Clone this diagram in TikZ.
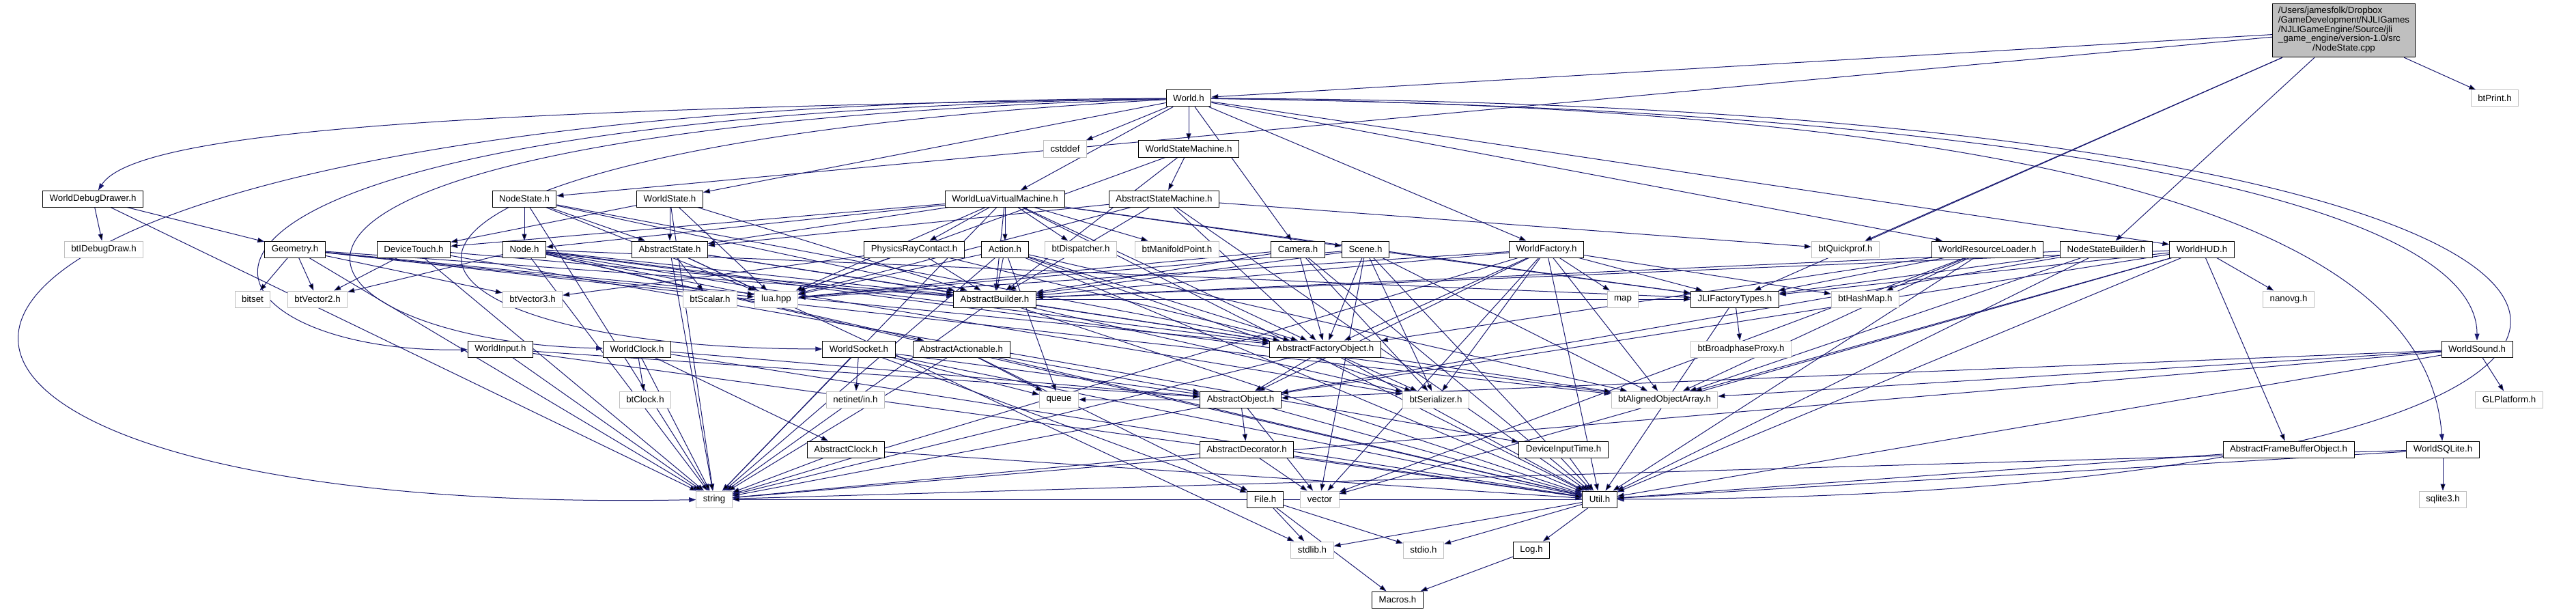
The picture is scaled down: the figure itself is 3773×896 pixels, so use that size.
\documentclass[tikz,border=0pt]{standalone}
\usepackage{fontspec}
\setmainfont{Liberation Sans}
\usetikzlibrary{arrows.meta}
\definecolor{edgeblue}{HTML}{191970}
\definecolor{extgrey}{HTML}{BFBFBF}
\pgfdeclarelayer{bg}
\pgfsetlayers{bg,main}
\tikzset{
  hdr/.style={draw=black, fill=white, line width=1pt, minimum height=24pt,
    inner xsep=10pt, inner ysep=2pt, font=\fontsize{13.3}{13.5}\selectfont},
  sys/.style={hdr, draw=extgrey},
  inc/.style={draw=edgeblue, line width=1pt, -{Triangle[length=10pt,width=7pt]}},
}
\begin{document}
\begin{tikzpicture}[x=1pt, y=-1pt]

    \def\rA{144}  \def\rB{218}  \def\rC{291}  \def\rD{365}
    \def\rE{438}  \def\rF{511}  \def\rG{585}  \def\rH{658}
    \def\rI{731}  \def\rJ{805}  \def\rK{878}

    \useasboundingbox (0,0) rectangle (3773,896);

    % source file
    \node[hdr, fill=extgrey, inner xsep=8pt, inner ysep=5pt] (root) at (3433,44.5)
      {\begin{tabular}{@{}l@{}}/Users/jamesfolk/Dropbox\\/GameDevelopment/NJLIGames\\
       /NJLIGameEngine/Source/jli\\\_game\_engine/version-1.0/src\\
       \multicolumn{1}{@{}c@{}}{/NodeState.cpp}\end{tabular}};

    \node[hdr] (world) at (1741,\rA) {World.h};
    \node[sys] (btprint) at (3654,\rA) {btPrint.h};

    \node[sys] (cstddef) at (1560,\rB) {cstddef};
    \node[hdr] (wsm) at (1741,\rB) {WorldStateMachine.h};

    \node[hdr] (wdd) at (136,\rC) {WorldDebugDrawer.h};
    \node[hdr] (nstate) at (768,\rC) {NodeState.h};
    \node[hdr] (wstate) at (981,\rC) {WorldState.h};
    \node[hdr] (wluavm) at (1472,\rC) {WorldLuaVirtualMachine.h};
    \node[hdr] (absm) at (1705,\rC) {AbstractStateMachine.h};

    \node[sys] (btidebug) at (152,\rD) {btIDebugDraw.h};
    \node[hdr] (geom) at (432,\rD) {Geometry.h};
    \node[hdr] (dtouch) at (606,\rD) {DeviceTouch.h};
    \node[hdr] (node) at (768,\rD) {Node.h};
    \node[hdr] (astate) at (981,\rD) {AbstractState.h};
    \node[hdr] (prc) at (1339,\rD) {PhysicsRayContact.h};
    \node[hdr] (action) at (1472,\rD) {Action.h};
    \node[sys] (btdisp) at (1583,\rD) {btDispatcher.h};
    \node[sys] (btmani) at (1724,\rD) {btManifoldPoint.h};
    \node[hdr] (camera) at (1901,\rD) {Camera.h};
    \node[hdr] (scene) at (2000,\rD) {Scene.h};
    \node[hdr] (wfactory) at (2265,\rD) {WorldFactory.h};
    \node[sys] (btquick) at (2703,\rD) {btQuickprof.h};
    \node[hdr] (wrl) at (2911,\rD) {WorldResourceLoader.h};
    \node[hdr] (nsb) at (3085,\rD) {NodeStateBuilder.h};
    \node[hdr] (whud) at (3225,\rD) {WorldHUD.h};

    \node[sys] (bitset) at (370,\rE) {bitset};
    \node[sys] (btvtwo) at (465,\rE) {btVector2.h};
    \node[sys] (btvthree) at (780,\rE) {btVector3.h};
    \node[sys] (btscalar) at (1040,\rE) {btScalar.h};
    \node[sys] (lua) at (1137,\rE) {lua.hpp};
    \node[hdr] (abuilder) at (1457,\rE) {AbstractBuilder.h};
    \node[sys] (map) at (2377,\rE) {map};
    \node[hdr] (jli) at (2541,\rE) {JLIFactoryTypes.h};
    \node[sys] (bthash) at (2732,\rE) {btHashMap.h};
    \node[sys] (nanovg) at (3352,\rE) {nanovg.h};

    \node[hdr] (winput) at (733,\rF) {WorldInput.h};
    \node[hdr] (wclock) at (933,\rF) {WorldClock.h};
    \node[hdr] (wsocket) at (1258,\rF) {WorldSocket.h};
    \node[hdr] (aactionable) at (1408,\rF) {AbstractActionable.h};
    \node[hdr] (afobject) at (1941,\rF) {AbstractFactoryObject.h};
    \node[sys] (btbroad) at (2550,\rF) {btBroadphaseProxy.h};
    \node[hdr] (wsound) at (3628,\rF) {WorldSound.h};

    \node[sys] (btclock) at (945,\rG) {btClock.h};
    \node[sys] (netinet) at (1253,\rG) {netinet/in.h};
    \node[sys] (queue) at (1551,\rG) {queue};
    \node[hdr] (aobject) at (1817,\rG) {AbstractObject.h};
    \node[sys] (btserial) at (2103,\rG) {btSerializer.h};
    \node[sys] (btaligned) at (2438,\rG) {btAlignedObjectArray.h};
    \node[sys] (glplat) at (3675,\rG) {GLPlatform.h};

    \node[hdr] (aclock) at (1239,\rH) {AbstractClock.h};
    \node[hdr] (adecor) at (1826,\rH) {AbstractDecorator.h};
    \node[hdr] (dinputtime) at (2290,\rH) {DeviceInputTime.h};
    \node[hdr] (afbo) at (3352,\rH) {AbstractFrameBufferObject.h};
    \node[hdr] (wsqlite) at (3578,\rH) {WorldSQLite.h};

    \node[sys] (string) at (1046,\rI) {string};
    \node[hdr] (file) at (1853,\rI) {File.h};
    \node[sys] (vector) at (1933,\rI) {vector};
    \node[hdr] (util) at (2343,\rI) {Util.h};
    \node[sys] (sqlite) at (3578,\rI) {sqlite3.h};

    \node[sys] (stdlib) at (1922,\rJ) {stdlib.h};
    \node[sys] (stdio) at (2085,\rJ) {stdio.h};
    \node[hdr] (log) at (2243,\rJ) {Log.h};

    \node[hdr] (macros) at (2047,\rK) {Macros.h};

    \begin{pgfonlayer}{bg}
    % includes
    \path[inc] (root) edge (world) edge (nstate) edge (btquick) edge (jli)
      edge (nsb) edge (btprint);
    \path[inc] (world) edge (cstddef) edge (wsm) edge (wluavm) edge (camera)
      edge (wfactory) edge (wrl) edge (whud) edge (wstate);
    \draw[inc] (world) .. controls (700,160) and (200,190) .. (wdd);
    \draw[inc] (world) .. controls (-400,150) and (-400,760) .. (string);
    \draw[inc] (world) .. controls (50,170) and (250,520) .. (winput);
    \draw[inc] (world) .. controls (150,190) and (400,500) .. (wclock);
    \draw[inc] (world) .. controls (350,220) and (500,510) .. (wsocket);
    \draw[inc] (world) .. controls (3000,160) and (3628,300) .. (wsound);
    \draw[inc] (world) .. controls (3300,160) and (3560,420) .. (wsqlite);
    \draw[inc] (world) .. controls (4200,150) and (4200,730) .. (util);
    \path[inc] (wsm) edge (absm) edge (lua) edge (abuilder);
    \path[inc] (wdd) edge (btidebug) edge (geom) edge (string);
    \path[inc] (nstate) edge (node) edge (astate) edge (lua) edge (abuilder)
      edge (afobject) edge (string);
    \path[inc] (wstate) edge (astate) edge (dtouch) edge (lua) edge (abuilder)
      edge (string);
    \path[inc] (wluavm) edge (dtouch) edge (node) edge (astate) edge (prc)
      edge (action) edge (btdisp) edge (btmani) edge (scene) edge (lua)
      edge (abuilder) edge (afobject) edge (jli) edge (util) edge (string);
    \path[inc] (absm) edge (astate) edge (lua) edge (afobject) edge (abuilder)
      edge (util) edge (btquick);
    \path[inc] (geom) edge (bitset) edge (btvtwo) edge (btvthree) edge (lua)
      edge (abuilder) edge (afobject) edge (string) edge (btaligned);
    \path[inc] (dtouch) edge (btvtwo) edge (string) edge (abuilder)
      edge (dinputtime);
    \path[inc] (node) edge (btvtwo) edge (lua) edge (abuilder) edge (afobject)
      edge (aactionable) edge (btaligned) edge (btserial) edge (jli)
      edge (string) edge (util);
    \path[inc] (astate) edge (btscalar) edge (lua) edge (abuilder)
      edge (afobject) edge (string) edge (stdlib);
    \path[inc] (prc) edge (btvthree) edge (lua) edge (abuilder) edge (afobject);
    \path[inc] (action) edge (abuilder) edge (lua) edge (afobject) edge (queue)
      edge (string) edge (btaligned) edge (util) edge (btserial);
    \path[inc] (camera) edge (abuilder) edge (lua) edge (afobject) edge (util)
      edge (btserial);
    \path[inc] (scene) edge (abuilder) edge (afobject) edge (lua) edge (jli)
      edge (btaligned) edge (vector) edge (util) edge (btserial);
    \path[inc] (wfactory) edge (map) edge (jli) edge (bthash) edge (afobject)
      edge (abuilder) edge (btaligned) edge (vector) edge (util)
      edge (btserial) edge (aobject) edge (lua) edge (string);
    \path[inc] (wrl) edge (jli) edge (bthash) edge (afobject) edge (vector)
      edge (util) edge (btaligned);
    \path[inc] (nsb) edge (abuilder) edge (jli) edge (btaligned) edge (util)
      edge (aobject);
    \path[inc] (whud) edge (nanovg) edge (afbo) edge (util) edge (abuilder)
      edge (jli) edge (btaligned) edge (aobject) edge (vector);
    \path[inc] (jli) edge (btbroad) edge (util);
    \path[inc] (abuilder) edge (afobject) edge (jli) edge (string)
      edge (btserial) edge (util);
    \path[inc] (afobject) edge (aobject) edge (btserial) edge (btaligned)
      edge (util) edge (string);
    \path[inc] (aobject) edge (queue) edge (adecor) edge (string) edge (util)
      edge (vector);
    \path[inc] (adecor) edge (string) edge (vector) edge (util);
    \path[inc] (aactionable) edge (queue) edge (aobject) edge (string)
      edge (file) edge (util);
    \path[inc] (wsocket) edge (netinet) edge (queue) edge (aobject)
      edge (string) edge (file) edge (util);
    \path[inc] (wclock) edge (btclock) edge (aclock) edge (string)
      edge (aobject) edge (util);
    \path[inc] (aclock) edge (string) edge (util);
    \path[inc] (winput) edge (aobject) edge (string) edge (util);
    \path[inc] (wsound) edge (glplat) edge (aobject) edge (btaligned)
      edge (util) edge (string);
    \path[inc] (wsqlite) edge (sqlite) edge (util) edge (string);
    \path[inc] (afbo) edge (util);
    \path[inc] (dinputtime) edge (util);
    \path[inc] (file) edge (stdlib) edge (stdio) edge (macros);
    \path[inc] (util) edge (stdlib) edge (stdio) edge (log) edge (string);
    \path[inc] (log) edge (macros);
    \end{pgfonlayer}

\end{tikzpicture}
\end{document}
